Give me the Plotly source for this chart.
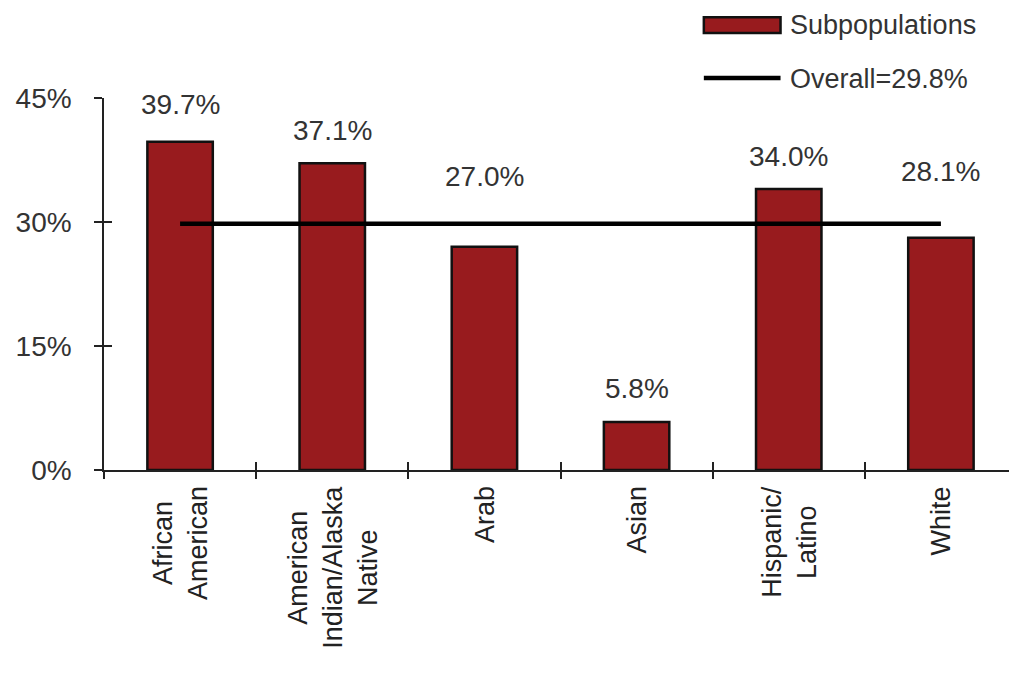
import plotly.graph_objects as go

# ---- data ----
categories = ["African American", "American Indian/Alaska Native", "Arab",
              "Asian", "Hispanic/Latino", "White"]
category_labels = ["African<br>American", "American<br>Indian/Alaska<br>Native", "Arab",
                   "Asian", "Hispanic/<br>Latino", "White"]
subpop_values = [39.7, 37.1, 27.0, 5.8, 34.0, 28.1]
overall_value = 29.8
overall_label = "Overall=29.8%"
series_name = "Subpopulations"
y_ticks = [0, 15, 30, 45]
y_ticktext = ["0%", "15%", "30%", "45%"]

# ---- styles ----
bar_color = "#981b1e"
text_color = "#333333"
font_family = "Liberation Sans, Arial, sans-serif"
label_lift_px = [37, 33, 70, 34, 32, 66]  # vertical offset of value labels above bar tops

fig = go.Figure()
fig.add_trace(go.Bar(
    x=categories, y=subpop_values, name=series_name,
    marker=dict(color=bar_color, line=dict(color="#111111", width=2.5)),
    showlegend=False, hoverinfo="skip",
))
fig.add_trace(go.Scatter(
    x=[categories[0], categories[-1]], y=[overall_value, overall_value],
    mode="lines", name=overall_label, line=dict(color="#000000", width=4.5),
    showlegend=False, hoverinfo="skip",
))

# value labels
for cat, val, lift in zip(categories, subpop_values, label_lift_px):
    fig.add_annotation(x=cat, y=val, text=f"{val:.1f}%", showarrow=False,
                       yanchor="middle", yshift=lift,
                       font=dict(size=28, color=text_color, family=font_family))

# category labels (rotated, centre-aligned lines)
for cat, lab in zip(categories, category_labels):
    fig.add_annotation(x=cat, y=0, yref="paper", text=lab, showarrow=False,
                       textangle=-90, align="center", xanchor="center", yanchor="top",
                       yshift=-14, font=dict(size=27, color="#222222", family=font_family))

# ---- custom legend ----
fig.add_shape(type="rect", xref="paper", yref="paper",
              x0=0.657, x1=0.741, y0=1.175, y1=1.217,
              fillcolor=bar_color, line=dict(color="#111111", width=2.5))
fig.add_shape(type="line", xref="paper", yref="paper",
              x0=0.657, x1=0.741, y0=1.054, y1=1.054,
              line=dict(color="#000000", width=4.5))
fig.add_annotation(xref="paper", yref="paper", x=0.749, y=1.196, text=series_name,
                   showarrow=False, xanchor="left", yanchor="middle",
                   font=dict(size=27, color=text_color, family=font_family))
fig.add_annotation(xref="paper", yref="paper", x=0.749, y=1.050, text=overall_label,
                   showarrow=False, xanchor="left", yanchor="middle",
                   font=dict(size=27, color=text_color, family=font_family))

fig.update_layout(
    width=1009, height=671,
    margin=dict(l=96, r=0, t=90, b=209),
    paper_bgcolor="white", plot_bgcolor="white",
    bargap=0.57,
    font=dict(family=font_family, color=text_color),
    xaxis=dict(
        type="category", range=[-0.5, 5.5], tickson="boundaries",
        ticks="outside", ticklen=7, tickwidth=1.5, tickcolor="#222222",
        showline=True, linecolor="#222222", linewidth=1.5,
        showgrid=False, zeroline=False, showticklabels=False,
    ),
    xaxis2=dict(
        overlaying="x", range=[-0.5, 5.5], tickvals=[-0.5, 0.5, 1.5, 2.5, 3.5, 4.5, 5.5],
        ticks="inside", ticklen=8, tickwidth=1.5, tickcolor="#222222",
        showticklabels=False, showline=False, showgrid=False, zeroline=False,
        side="bottom", anchor="y",
    ),
    yaxis=dict(
        range=[0, 45], tickvals=y_ticks, ticktext=y_ticktext,
        ticks="outside", ticklen=8, tickwidth=1.5, tickcolor="#222222",
        showline=True, linecolor="#222222", linewidth=1.5,
        showgrid=False, zeroline=False,
        tickfont=dict(size=28, color=text_color, family=font_family),
        ticklabelstandoff=17,
    ),
    yaxis2=dict(
        overlaying="y", range=[0, 45], tickvals=y_ticks,
        ticks="inside", ticklen=8, tickwidth=1.5, tickcolor="#222222",
        showticklabels=False, showline=False, showgrid=False, zeroline=False,
        anchor="x",
    ),
)

# invisible trace to activate the overlay axes
fig.add_trace(go.Scatter(x=[None], y=[None], xaxis="x2", yaxis="y2",
                         showlegend=False, hoverinfo="skip"))

fig.write_html("out.html")
